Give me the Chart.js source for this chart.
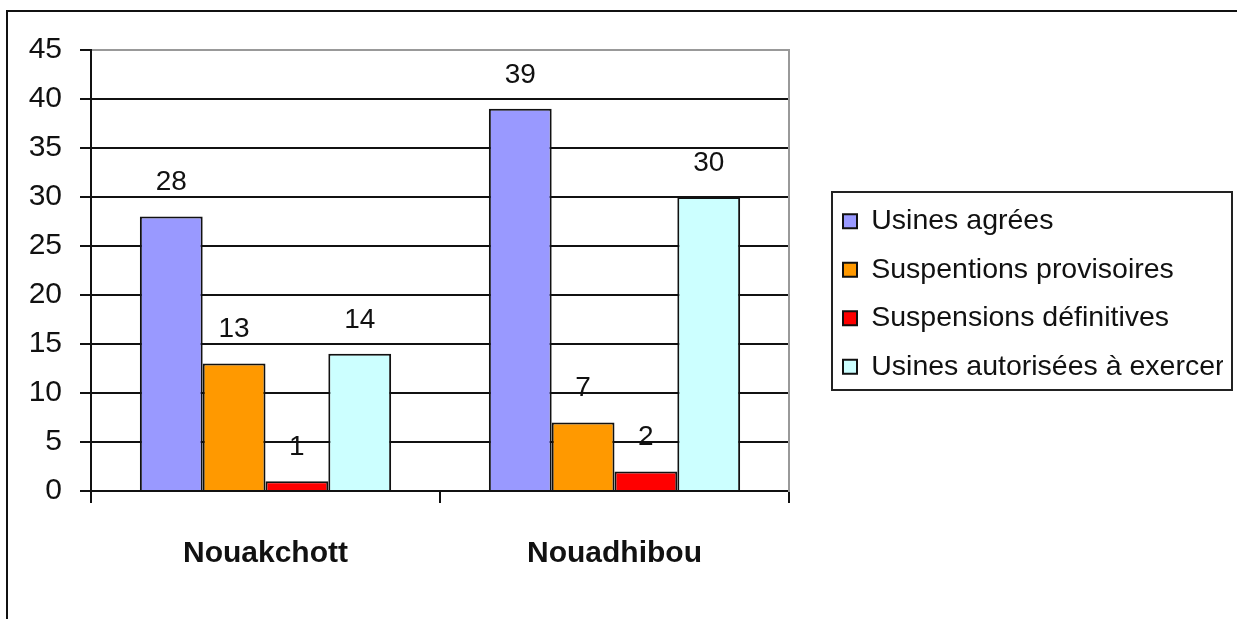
<!DOCTYPE html>
<html>
<head>
<meta charset="utf-8">
<script src="https://cdn.jsdelivr.net/npm/chart.js@4/dist/chart.umd.min.js"></script>
<style>
  html, body { margin: 0; padding: 0; background: #fff; overflow: hidden; }
  #wrap { position: relative; width: 1237px; height: 619px; }
</style>
</head>
<body>
<div id="wrap"><canvas id="c"></canvas></div>
<script>
// ---- data ----
const categories = ['Nouakchott', 'Nouadhibou'];
const seriesNames = ['Usines agrées', 'Suspentions provisoires', 'Suspensions définitives', 'Usines autorisées à exercer'];
const usinesAgrees = [28, 39];
const suspentionsProvisoires = [13, 7];
const suspensionsDefinitives = [1, 2];
const usinesAutorisees = [14, 30];
const seriesColors = ['#9999FF', '#FF9900', '#FF0000', '#CCFFFF'];
const yMin = 0, yMax = 45, yStep = 5;

const FONT = '"Liberation Sans", Arial, sans-serif';

const frame = {
  id: 'frame',
  beforeDraw(chart) {
    const ctx = chart.ctx;
    ctx.save();
    ctx.strokeStyle = '#111';
    ctx.lineWidth = 2;
    ctx.beginPath();
    ctx.moveTo(7, chart.height + 5);
    ctx.lineTo(7, 11);
    ctx.lineTo(chart.width + 5, 11);
    ctx.stroke();
    ctx.restore();
  },
  afterDraw(chart) {
    const lg = chart.legend;
    const hb = lg.legendHitBoxes;
    if (!hb || !hb.length) return;
    const ctx = chart.ctx;
    const first = hb[0], last = hb[hb.length - 1];
    ctx.save();
    ctx.strokeStyle = '#222';
    ctx.lineWidth = 2;
    ctx.strokeRect(lg.left + 9, first.top - 15, lg.width, (last.top + last.height + 9) - (first.top - 15));
    ctx.restore();
  }
};

const valueLabels = {
  id: 'valueLabels',
  afterDatasetsDraw(chart) {
    const ctx = chart.ctx;
    ctx.save();
    ctx.font = '28px ' + FONT;
    ctx.fillStyle = '#111';
    ctx.textAlign = 'center';
    ctx.textBaseline = 'middle';
    chart.data.datasets.forEach((ds, i) => {
      const meta = chart.getDatasetMeta(i);
      meta.data.forEach((el, j) => {
        ctx.fillText(String(ds.data[j]), el.x, el.y - 34);
      });
    });
    ctx.restore();
  }
};

const seriesData = [usinesAgrees, suspentionsProvisoires, suspensionsDefinitives, usinesAutorisees];

new Chart(document.getElementById('c'), {
  type: 'bar',
  data: {
    labels: categories,
    datasets: seriesData.map((d, i) => ({
      label: seriesNames[i],
      data: d,
      backgroundColor: seriesColors[i],
      borderColor: '#111',
      borderWidth: 2,
      barPercentage: 1.0,
      categoryPercentage: 0.72
    }))
  },
  options: {
    responsive: true,
    maintainAspectRatio: false,
    animation: false,
    events: [],
    layout: { padding: { left: 0, top: 50, right: 14, bottom: 0 } },
    scales: {
      x: {
        type: 'category',
        offset: true,
        grid: { offset: true, drawOnChartArea: false, drawTicks: true, tickLength: 12, color: '#111', lineWidth: 2 },
        border: { display: true, color: '#111', width: 2 },
        ticks: { color: '#111', font: { family: FONT, size: 30, weight: 'bold' }, padding: 33, maxRotation: 0 },
        afterFit(s) { s.height = 128; }
      },
      y: {
        min: yMin, max: yMax,
        ticks: { stepSize: yStep, color: '#111', font: { family: FONT, size: 30 }, padding: 18 },
        grid: {
          color: (c) => (c.tick && c.tick.value === yMax) ? '#999' : '#111',
          tickColor: '#111',
          lineWidth: 2,
          tickLength: 11,
          drawTicks: true
        },
        border: { display: true, color: '#111', width: 2 },
        afterFit(s) { s.width = 91; }
      },
      yRight: {
        type: 'linear',
        position: 'right',
        display: true,
        grid: { display: false, drawTicks: false },
        ticks: { display: false },
        border: { display: true, color: '#999', width: 2 },
        afterFit(s) { s.width = 34; }
      }
    },
    plugins: {
      tooltip: { enabled: false },
      legend: {
        position: 'right',
        fullSize: false,
        align: 'center',
        maxWidth: 400,
        title: { display: true, text: ' ', font: { size: 10, lineHeight: 1 }, padding: { top: 0, bottom: 37 } },
        labels: {
          boxWidth: 14,
          boxHeight: 14,
          padding: 20,
          color: '#111',
          font: { family: FONT, size: 28.5 }
        }
      }
    }
  },
  plugins: [frame, valueLabels]
});
</script>
</body>
</html>
